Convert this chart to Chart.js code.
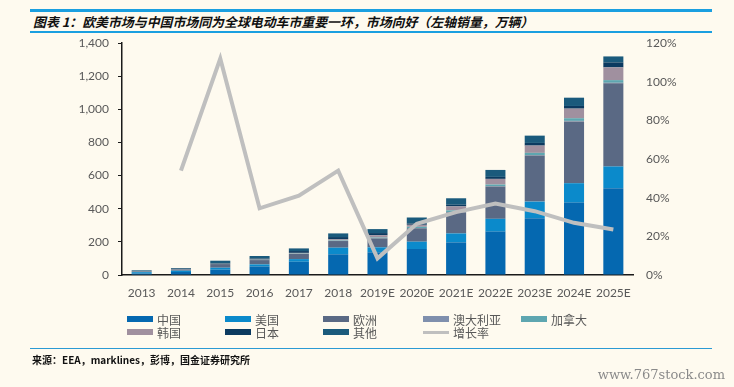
<!DOCTYPE html>
<html lang="zh">
<head>
  <meta charset="utf-8">
  <title>欧美市场与中国市场</title>
  <style>
    html, body {
      margin: 0;
      padding: 0;
      background: #fefaef;
    }
    #page {
      position: relative;
      width: 734px;
      height: 387px;
      overflow: hidden;
      font-family: "Noto Sans CJK SC", sans-serif;
    }
    .rule {
      position: absolute;
      left: 30px;
      width: 682px;
      background: #1a9fe0;
    }
    #title {
      position: absolute;
      left: 33px;
      top: 12px;
      font-size: 12.9px;
      font-weight: bold;
      font-style: italic;
      color: #111;
      white-space: nowrap;
    }
    #chartBox {
      position: absolute;
      left: 0;
      top: 0;
      width: 734px;
      height: 305px;
    }
    #legend {
      position: absolute;
      left: 0;
      top: 0;
      width: 734px;
      height: 387px;
      pointer-events: none;
    }
    .item {
      position: absolute;
      font-size: 12px;
      line-height: 14px;
      color: #595959;
      white-space: nowrap;
    }
    .item i {
      display: inline-block;
      width: 26px;
      height: 6px;
      margin-right: 4px;
      vertical-align: 3px;
    }
    #source {
      position: absolute;
      left: 32px;
      top: 352px;
      font-size: 10px;
      color: #111;
      font-weight: bold;
    }
    #mark {
      position: absolute;
      right: 9px;
      top: 367px;
      font-family: "DejaVu Serif", serif;
      font-size: 13px;
      color: #8a8a8a;
    }
  </style>
  <script src="https://cdn.jsdelivr.net/npm/chart.js"></script>
</head>
<body>
<div id="page">
  <div class="rule" style="top:9px;height:3px;"></div>
  <div id="title">图表 1：欧美市场与中国市场同为全球电动车市重要一环，市场向好（左轴销量，万辆）</div>
  <div class="rule" style="top:31px;height:2px;"></div>
  <div id="chartBox"><canvas id="evChart" width="734" height="305"></canvas></div>
  <div id="legend"></div>
  <div class="rule" style="top:348px;height:1px;background:#2b9ad4;"></div>
  <div id="source">来源：EEA，marklines，彭博，国金证券研究所</div>
  <div id="mark">www.767stock.com</div>
</div>
<script>
  // categories and values (万辆)
  const years = ['2013', '2014', '2015', '2016', '2017', '2018', '2019E', '2020E', '2021E', '2022E', '2023E', '2024E', '2025E'];
  const china     = [9, 18, 32, 52, 80, 125, 137, 157, 197, 262, 343, 437, 524];
  const usa       = [8, 8, 12, 12, 16, 40, 30, 44, 54, 77, 100, 117, 131];
  const europe    = [4, 8, 22, 26, 32, 40, 54, 81, 127, 195, 278, 373, 502];
  const australia = [0.1, 0.2, 0.3, 0.5, 0.5, 1, 1, 1, 2, 2, 2, 3, 3];
  const canada    = [0.5, 0.5, 1, 1, 2, 3, 4, 8, 10, 10, 14, 16, 16];
  const korea     = [0.5, 1, 1, 2, 3, 6, 14, 12, 24, 34, 44, 58, 77];
  const japan     = [2, 2.5, 4, 6, 11, 14, 13, 8, 10, 12, 16, 16, 30];
  const other     = [4, 4, 14, 15, 16, 22, 24, 36, 39, 42, 44, 50, 36];
  // growth rate, %
  const growth    = [null, 54, 112, 34.5, 41, 54, 8.6, 26.5, 32.5, 37, 33, 27, 23.5];

  const leftTicks = [0, 200, 400, 600, 800, 1000, 1200, 1400];
  const rightTicks = [0, 20, 40, 60, 80, 100, 120];

  const barSeries = [
    { label: '中国', data: china, color: '#0568b0' },
    { label: '美国', data: usa, color: '#0b8acb' },
    { label: '欧洲', data: europe, color: '#5a6984' },
    { label: '澳大利亚', data: australia, color: '#7f8fad' },
    { label: '加拿大', data: canada, color: '#5ea6b0' },
    { label: '韩国', data: korea, color: '#a0909f' },
    { label: '日本', data: japan, color: '#0b3a60' },
    { label: '其他', data: other, color: '#1a5a7c' }
  ];

  const datasets = barSeries.map(function (s) {
    return {
      type: 'bar',
      label: s.label,
      data: s.data,
      backgroundColor: s.color,
      borderWidth: 0,
      stack: 'sales',
      yAxisID: 'y',
      order: 1,
      barPercentage: 1,
      categoryPercentage: 0.51
    };
  });
  datasets.push({
    type: 'line',
    label: '增长率',
    data: growth,
    borderColor: '#bfbfbf',
    borderWidth: 4,
    pointRadius: 0,
    tension: 0,
    fill: false,
    yAxisID: 'y1',
    order: 0
  });

  const tickFont = { family: 'Lato, "Noto Sans", sans-serif', size: 12 };

  new Chart(document.getElementById('evChart').getContext('2d'), {
    type: 'bar',
    data: { labels: years, datasets: datasets },
    options: {
      responsive: false,
      animation: false,
      layout: { padding: { top: 43, left: 0, right: 0, bottom: 0 } },
      plugins: {
        legend: { display: false },
        tooltip: { enabled: false }
      },
      scales: {
        x: {
          stacked: true,
          offset: true,
          grid: { display: false, drawTicks: false },
          border: { display: true, color: '#1a1a1a', width: 1.5 },
          ticks: { color: '#595959', font: tickFont, padding: 11, maxRotation: 0, autoSkip: false },
          afterFit: function (s) { s.height = 30; }
        },
        y: {
          position: 'left',
          stacked: true,
          min: 0,
          max: 1400,
          afterBuildTicks: function (s) { s.ticks = leftTicks.map(function (v) { return { value: v }; }); },
          grid: { drawOnChartArea: false, drawTicks: true, tickLength: 4, color: '#1a1a1a' },
          border: { display: true, color: '#1a1a1a', width: 1.5 },
          ticks: {
            color: '#595959',
            font: tickFont,
            padding: 9,
            callback: function (v) { return v.toLocaleString('en-US'); }
          },
          afterFit: function (s) { s.width = 122; }
        },
        y1: {
          position: 'right',
          min: 0,
          max: 120,
          afterBuildTicks: function (s) { s.ticks = rightTicks.map(function (v) { return { value: v }; }); },
          grid: { display: false, drawTicks: false },
          border: { display: false },
          ticks: {
            color: '#595959',
            font: tickFont,
            padding: 13,
            callback: function (v) { return v + '%'; }
          },
          afterFit: function (s) { s.width = 101; }
        }
      }
    }
  });

  // legend laid out in the same five-column grid as the reference
  const legend = document.getElementById('legend');
  const colX = [127, 225, 323, 423, 521];
  const rowY = [313, 326];
  const legendItems = barSeries.map(function (s) { return { label: s.label, color: s.color, line: false }; });
  legendItems.push({ label: '增长率', color: '#bfbfbf', line: true });
  legendItems.forEach(function (it, i) {
    const row = i < 5 ? 0 : 1;
    const col = i < 5 ? i : i - 5;
    const el = document.createElement('div');
    el.className = 'item';
    el.style.left = colX[col] + 'px';
    el.style.top = rowY[row] + 'px';
    const sw = document.createElement('i');
    sw.style.background = it.color;
    if (it.line) { sw.style.height = '3px'; sw.style.verticalAlign = '4px'; }
    el.appendChild(sw);
    el.appendChild(document.createTextNode(it.label));
    legend.appendChild(el);
  });
</script>
</body>
</html>
